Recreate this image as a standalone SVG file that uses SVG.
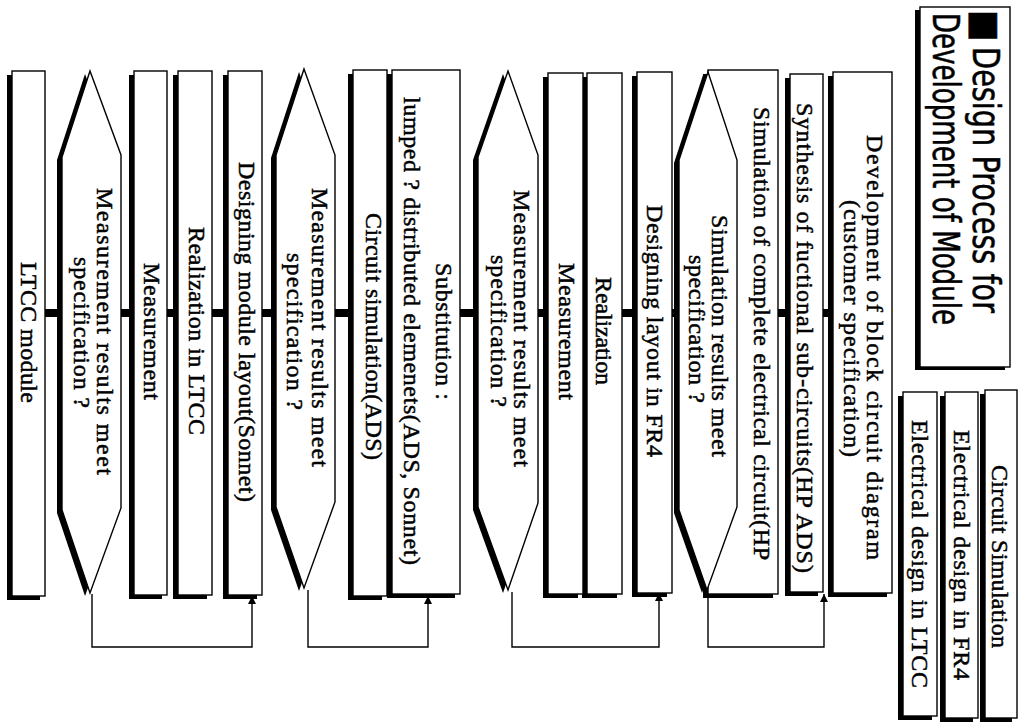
<svg xmlns="http://www.w3.org/2000/svg" width="1019" height="725" viewBox="0 0 1019 725">
<defs>
<style>
.sh{fill:#000}
.box{fill:#fff;stroke:#000;stroke-width:1.4}
.t{font-family:"Liberation Serif","Times New Roman",serif;font-size:24px;fill:#000;stroke:#000;stroke-width:0.5}
.tt{font-family:"Liberation Sans Narrow","DejaVu Sans Condensed","Liberation Sans",sans-serif;font-size:37px;fill:#000;stroke:#000;stroke-width:0.5}
.fb{fill:none;stroke:#000;stroke-width:1.4}
.bar{fill:#000}
</style>
<marker id="ah" viewBox="0 0 10 10" refX="10" refY="5" markerWidth="9" markerHeight="8" markerUnits="userSpaceOnUse" orient="auto">
<path d="M0,0 L10,5 L0,10 z" fill="#000"/>
</marker>
</defs>
<rect width="1019" height="725" fill="#fff"/>

<g id="title">
<rect class="sh" x="915" y="10" width="90" height="360"/>
<rect class="box" x="920" y="7" width="90" height="360"/>
<text class="tt" transform="translate(973,10) rotate(90)">■</text>
<text class="tt" transform="translate(973,47) rotate(90)" textLength="266" lengthAdjust="spacingAndGlyphs">Design Process for</text>
<text class="tt" transform="translate(933,13) rotate(90)" textLength="312" lengthAdjust="spacingAndGlyphs">Development of Module</text>
</g>

<g id="legend-circuit-simulation">
<rect class="sh" x="980" y="394" width="32" height="328"/>
<rect class="box" x="985" y="390" width="32" height="328"/>
<text class="t" transform="translate(992,465) rotate(90)" textLength="183">Circuit Simulation</text>
</g>
<g id="legend-fr4">
<rect class="sh" x="940" y="396" width="33" height="326"/>
<rect class="box" x="945" y="392" width="33" height="326"/>
<text class="t" transform="translate(954,430) rotate(90)" textLength="250">Electrical design in FR4</text>
</g>
<g id="legend-ltcc">
<rect class="sh" x="898" y="396" width="34" height="324"/>
<rect class="box" x="903" y="392" width="34" height="324"/>
<text class="t" transform="translate(912,420) rotate(90)" textLength="268">Electrical design in LTCC</text>
</g>

<g id="connectors">
<rect class="bar" x="823" y="309" width="6" height="8"/>
<rect class="bar" x="778" y="309" width="8" height="8"/>
<rect class="bar" x="671" y="309" width="5" height="8"/>
<rect class="bar" x="622" y="309" width="11" height="8"/>
<rect class="bar" x="538" y="309" width="6" height="8"/>
<rect class="bar" x="460" y="309" width="14" height="8"/>
<rect class="bar" x="335" y="309" width="14" height="8"/>
<rect class="bar" x="262" y="309" width="10" height="8"/>
<rect class="bar" x="212" y="309" width="12" height="8"/>
<rect class="bar" x="167" y="309" width="7" height="8"/>
<rect class="bar" x="121" y="309" width="9" height="8"/>
<rect class="bar" x="45" y="309" width="13" height="8"/>
<path class="fb" d="M708,592 V647 H824 V594" marker-end="url(#ah)"/>
<path class="fb" d="M512,592 V647 H659 V593" marker-end="url(#ah)"/>
<path class="fb" d="M92,594 V647 H252 V596" marker-end="url(#ah)"/>
<path class="fb" d="M308,590 V647 H428 V596" marker-end="url(#ah)"/>
</g>

<g id="n-development">
<rect class="sh" x="828" y="76" width="59" height="521"/>
<rect class="box" x="833" y="72" width="59" height="521"/>
<text class="t" transform="translate(867,135) rotate(90)" textLength="425">Development of block circuit diagram</text>
<text class="t" transform="translate(844,200) rotate(90)" textLength="257">(customer specification)</text>
</g>
<g id="n-synthesis">
<rect class="sh" x="785" y="78" width="33" height="518"/>
<rect class="box" x="790" y="74" width="33" height="518"/>
<text class="t" transform="translate(797,103) rotate(90)" textLength="470">Synthesis of fuctional sub-circuits(HP ADS)</text>
</g>
<g id="n-sim-complete">
<rect class="sh" x="703" y="74" width="70" height="524"/>
<rect class="box" x="708" y="70" width="70" height="524"/>
<text class="t" transform="translate(754,107) rotate(90)" textLength="453">Simulation of complete electrical circuit(HP</text>
</g>
<g id="n-decision-sim">
<polygon class="sh" points="703,75 732,163 732,510 702,593 674,513 674,163"/>
<polygon class="box" points="708,72 737,160 737,507 707,590 679,510 679,160"/>
<text class="t" transform="translate(712,215) rotate(90)" textLength="242">Simulation results meet</text>
<text class="t" transform="translate(689,255) rotate(90)" textLength="148">specification ?</text>
</g>
<g id="n-design-fr4">
<rect class="sh" x="632" y="76" width="35" height="521"/>
<rect class="box" x="637" y="72" width="35" height="521"/>
<text class="t" transform="translate(647,205) rotate(90)" textLength="252">Designing layout in FR4</text>
</g>
<g id="n-realization">
<rect class="sh" x="582" y="77" width="35" height="521"/>
<rect class="box" x="587" y="73" width="35" height="521"/>
<text class="t" transform="translate(596,277) rotate(90)" textLength="108">Realization</text>
</g>
<g id="n-measurement-fr4">
<rect class="sh" x="543" y="77" width="35" height="521"/>
<rect class="box" x="548" y="73" width="35" height="521"/>
<text class="t" transform="translate(559,263) rotate(90)" textLength="137">Measurement</text>
</g>
<g id="n-decision-fr4">
<polygon class="sh" points="503,74 533,158 533,506 503,593 473,510 473,160"/>
<polygon class="box" points="508,71 538,155 538,503 508,590 478,507 478,157"/>
<text class="t" transform="translate(514,190) rotate(90)" textLength="277">Measurement results meet</text>
<text class="t" transform="translate(491,255) rotate(90)" textLength="152">specification ?</text>
</g>
<g id="n-substitution">
<rect class="sh" x="387" y="74" width="68" height="524"/>
<rect class="box" x="392" y="70" width="68" height="524"/>
<text class="t" transform="translate(436,263) rotate(90)" textLength="137">Substitution :</text>
<text class="t" transform="translate(404,97) rotate(90)" textLength="468">lumped ? distributed elemenets(ADS, Sonnet)</text>
</g>
<g id="n-circuit-sim">
<rect class="sh" x="348" y="74" width="34" height="526"/>
<rect class="box" x="353" y="70" width="34" height="526"/>
<text class="t" transform="translate(366,213) rotate(90)" textLength="247">Circuit simulation(ADS)</text>
</g>
<g id="n-decision-sonnet">
<polygon class="sh" points="299,72 330,158 330,505 299,591 271,510 271,158"/>
<polygon class="box" points="304,69 335,155 335,502 304,588 276,507 276,155"/>
<text class="t" transform="translate(312,188) rotate(90)" textLength="279">Measurement results meet</text>
<text class="t" transform="translate(287,253) rotate(90)" textLength="157">specification ?</text>
</g>
<g id="n-design-module">
<rect class="sh" x="223" y="75" width="34" height="524"/>
<rect class="box" x="228" y="71" width="34" height="524"/>
<text class="t" transform="translate(239,162) rotate(90)" textLength="340">Designing module layout(Sonnet)</text>
</g>
<g id="n-realization-ltcc">
<rect class="sh" x="173" y="75" width="34" height="524"/>
<rect class="box" x="178" y="71" width="34" height="524"/>
<text class="t" transform="translate(189,227) rotate(90)" textLength="208">Realization in LTCC</text>
</g>
<g id="n-measurement-ltcc">
<rect class="sh" x="129" y="75" width="33" height="524"/>
<rect class="box" x="134" y="71" width="33" height="524"/>
<text class="t" transform="translate(144,263) rotate(90)" textLength="137">Measurement</text>
</g>
<g id="n-decision-ltcc">
<polygon class="sh" points="85,74 116,158 116,511 85,596 57,513 57,160"/>
<polygon class="box" points="90,71 121,155 121,508 90,593 62,510 62,157"/>
<text class="t" transform="translate(97,188) rotate(90)" textLength="287">Measurement  results  meet</text>
<text class="t" transform="translate(74,257) rotate(90)" textLength="151">specification ?</text>
</g>
<g id="n-ltcc-module">
<rect class="sh" x="7" y="75" width="33" height="525"/>
<rect class="box" x="12" y="71" width="33" height="525"/>
<text class="t" transform="translate(21,262) rotate(90)" textLength="141">LTCC module</text>
</g>
</svg>
